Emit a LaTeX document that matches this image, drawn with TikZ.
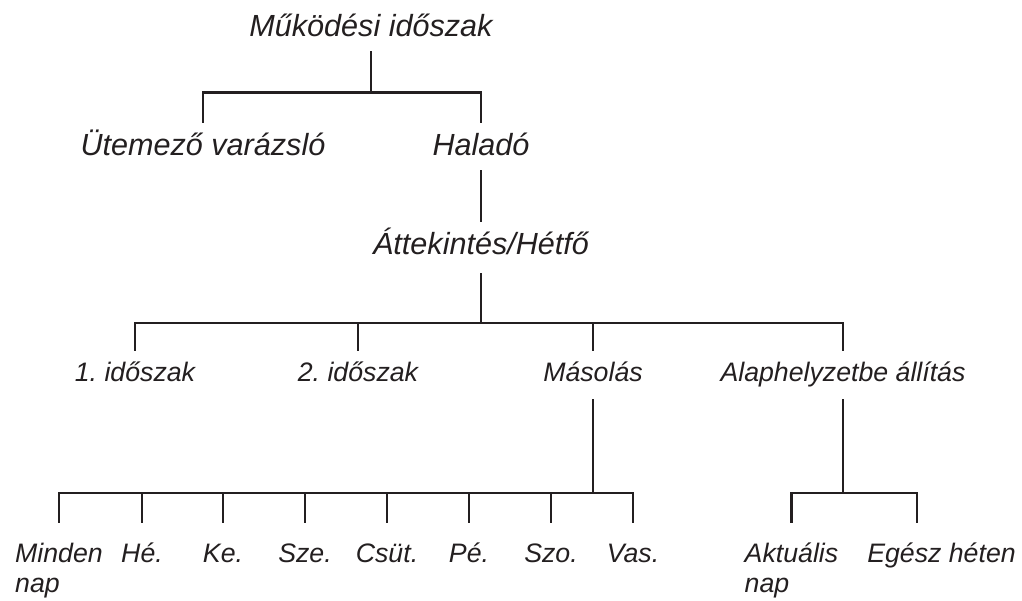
\documentclass[tikz,border=0pt]{standalone}
\usepackage{fontspec}
\setmainfont{Liberation Sans}
\definecolor{ink}{HTML}{231F20}
\frenchspacing

\begin{document}
\begin{tikzpicture}[
 big/.style={font=\fontsize{17.4}{20}\selectfont\itshape,text=ink,inner sep=0pt,anchor=base,text height=0.66cm,text depth=0.28cm},
 small/.style={big,font=\fontsize{15.2}{17}\selectfont\itshape,text height=0.62cm,text depth=0.34cm},
 day/.style={small,align=left,text height=0.78cm,text depth=0.3cm},
 twoline/.style={day,text height=1.38cm},
 link/.style={draw=ink,line width=1.3pt}]
\useasboundingbox (0,0) rectangle (20.44,-12.02);
\node[big] (top) at (7.42,-0.74) {Működési időszak};
\node[big] (ut) at (4.06,-3.12) {Ütemező varázsló};
\node[big] (hal) at (9.62,-3.12) {Haladó};
\node[big,text depth=0.36cm] (att) at (9.62,-5.10) {Áttekintés/Hétfő};
\node[small] (p1) at (2.70,-7.64) {1. időszak};
\node[small] (p2) at (7.16,-7.64) {2. időszak};
\node[small] (mas) at (11.86,-7.64) {Másolás};
\node[small] (alap) at (16.86,-7.64) {Alaphelyzetbe állítás};
\node[twoline] (mind) at (1.18,-11.84) {Minden\\nap};
\node[day] (he) at (2.84,-11.24) {Hé.};
\node[day] (ke) at (4.46,-11.24) {Ke.};
\node[day] (sze) at (6.10,-11.24) {Sze.};
\node[day] (csut) at (7.74,-11.24) {Csüt.};
\node[day] (pe) at (9.38,-11.24) {Pé.};
\node[day] (szo) at (11.02,-11.24) {Szo.};
\node[day] (vas) at (12.66,-11.24) {Vas.};
\node[twoline] (akt) at (15.83,-11.84) {Aktuális\\nap};
\node[day] (egesz) at (18.83,-11.24) {Egész héten};
\draw[link] (top.south) -- ++(0,-0.84);
\draw[link] (ut.north) -- ++(0,0.6) -| (hal.north);
\draw[link] (hal.south) -- (att.north);
\draw[link] (att.south) -- ++(0,-1.0);
\draw[link] (p1.north) -- ++(0,0.56) -| (alap.north);
\draw[link] (p2.north) -- ++(0,0.56);
\draw[link] (mas.north) -- ++(0,0.56);
\draw[link] (mas.south) -- ++(0,-1.88);
\draw[link] (alap.south) -- ++(0,-1.88);
\draw[link] (mind.north) -- ++(0,0.6) -| (vas.north);
\draw[link] (he.north) -- ++(0,0.6);
\draw[link] (ke.north) -- ++(0,0.6);
\draw[link] (sze.north) -- ++(0,0.6);
\draw[link] (csut.north) -- ++(0,0.6);
\draw[link] (pe.north) -- ++(0,0.6);
\draw[link] (szo.north) -- ++(0,0.6);
\draw[link] (akt.north) -- ++(0,0.6) -| ([xshift=-0.49cm]egesz.north);
\end{tikzpicture}
\end{document}
